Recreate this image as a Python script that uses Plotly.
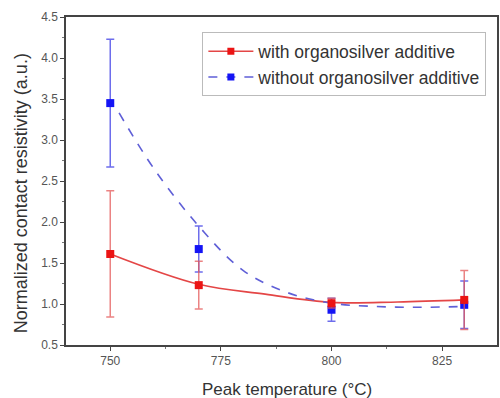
import plotly.graph_objects as go

# Measured points
temps = [750, 770, 800, 830]
with_vals = [1.61, 1.23, 1.01, 1.05]
with_err = [0.77, 0.29, 0.06, 0.36]
without_vals = [3.45, 1.67, 0.93, 0.99]
without_err = [0.78, 0.28, 0.14, 0.29]

# Fitted curves
fit_with_x = [750, 770, 785, 800, 815, 830]
fit_with_y = [1.61, 1.24, 1.12, 1.02, 1.025, 1.05]
fit_without_x = [752, 760, 770, 780, 790, 800, 810, 820, 830]
fit_without_y = [3.33, 2.64, 1.95, 1.41, 1.14, 1.01, 0.97, 0.96, 0.97]

x_ticks = [750, 775, 800, 825]
x_title = "Peak temperature (°C)"
y_title = "Normalized contact resistivity (a.u.)"

red = "rgb(235,20,20)"
red_line = "rgb(228,70,70)"
red_err = "rgba(228,90,90,0.75)"
blue = "rgb(20,20,245)"
blue_line = "rgb(95,95,215)"
blue_err = "rgba(60,60,230,0.75)"

fig = go.Figure()

fig.add_trace(go.Scatter(x=fit_with_x, y=fit_with_y, mode="lines", line=dict(color=red_line, width=1.6, shape="spline"),
                         showlegend=False, hoverinfo="skip"))
fig.add_trace(go.Scatter(x=fit_without_x, y=fit_without_y, mode="lines",
                         line=dict(color=blue_line, width=1.6, dash="dash", shape="spline"),
                         showlegend=False, hoverinfo="skip"))

fig.add_trace(go.Scatter(x=temps, y=without_vals, mode="markers",
                         marker=dict(symbol="square", size=8, color=blue),
                         error_y=dict(type="data", array=without_err, color=blue_err, thickness=1.5, width=4),
                         showlegend=False))
fig.add_trace(go.Scatter(x=temps, y=with_vals, mode="markers",
                         marker=dict(symbol="square", size=8, color=red),
                         error_y=dict(type="data", array=with_err, color=red_err, thickness=1.5, width=4),
                         showlegend=False))

# Legend entries
fig.add_trace(go.Scatter(x=[None], y=[None], mode="lines+markers", name="with organosilver additive",
                         line=dict(color=red_line, width=1.6), marker=dict(symbol="square", size=7, color=red)))
fig.add_trace(go.Scatter(x=[None], y=[None], mode="lines+markers", name="without organosilver additive",
                         line=dict(color=blue_line, width=1.6, dash="dash"),
                         marker=dict(symbol="square", size=7, color=blue)))

axis_common = dict(showline=True, linecolor="#444", linewidth=1.5, mirror=True, ticks="outside",
                   ticklen=4, tickcolor="#444", showgrid=False, zeroline=False,
                   tickfont=dict(family="Arial", size=12, color="#555"),
                   minor=dict(ticks="outside", ticklen=2, tickcolor="#777"))

fig.update_layout(
    width=500, height=398,
    margin=dict(l=66, r=1, t=17, b=53),
    paper_bgcolor="white", plot_bgcolor="white",
    font=dict(family="Arial", color="#333"),
    xaxis=dict(range=[740, 837.4], tickvals=x_ticks, **axis_common),
    yaxis=dict(range=[0.5, 4.5], dtick=0.5, tickformat=".1f", **axis_common),
    legend=dict(x=(203 - 66) / 433, y=0.953, xanchor="left", yanchor="top", bordercolor="#bbb", borderwidth=1,
                bgcolor="white", font=dict(family="Arial", size=17.5, color="#333"),
                tracegroupgap=0, itemwidth=45),
    annotations=[
        dict(text=x_title, xref="paper", yref="paper", x=(288 - 66) / 433, y=-(389 - 345) / 328,
             xanchor="center", yanchor="middle", showarrow=False,
             font=dict(family="Arial", size=17, color="#333")),
        dict(text=y_title, xref="paper", yref="paper", x=-(66 - 21) / 433, y=(345 - 193) / 328,
             xanchor="center", yanchor="middle", showarrow=False, textangle=-90,
             font=dict(family="Arial", size=18, color="#333")),
    ],
)
fig.update_xaxes(minor=dict(tickvals=[762.5, 787.5, 812.5]))
fig.update_yaxes(minor=dict(dtick=0.25))

fig.write_html("out.html")
